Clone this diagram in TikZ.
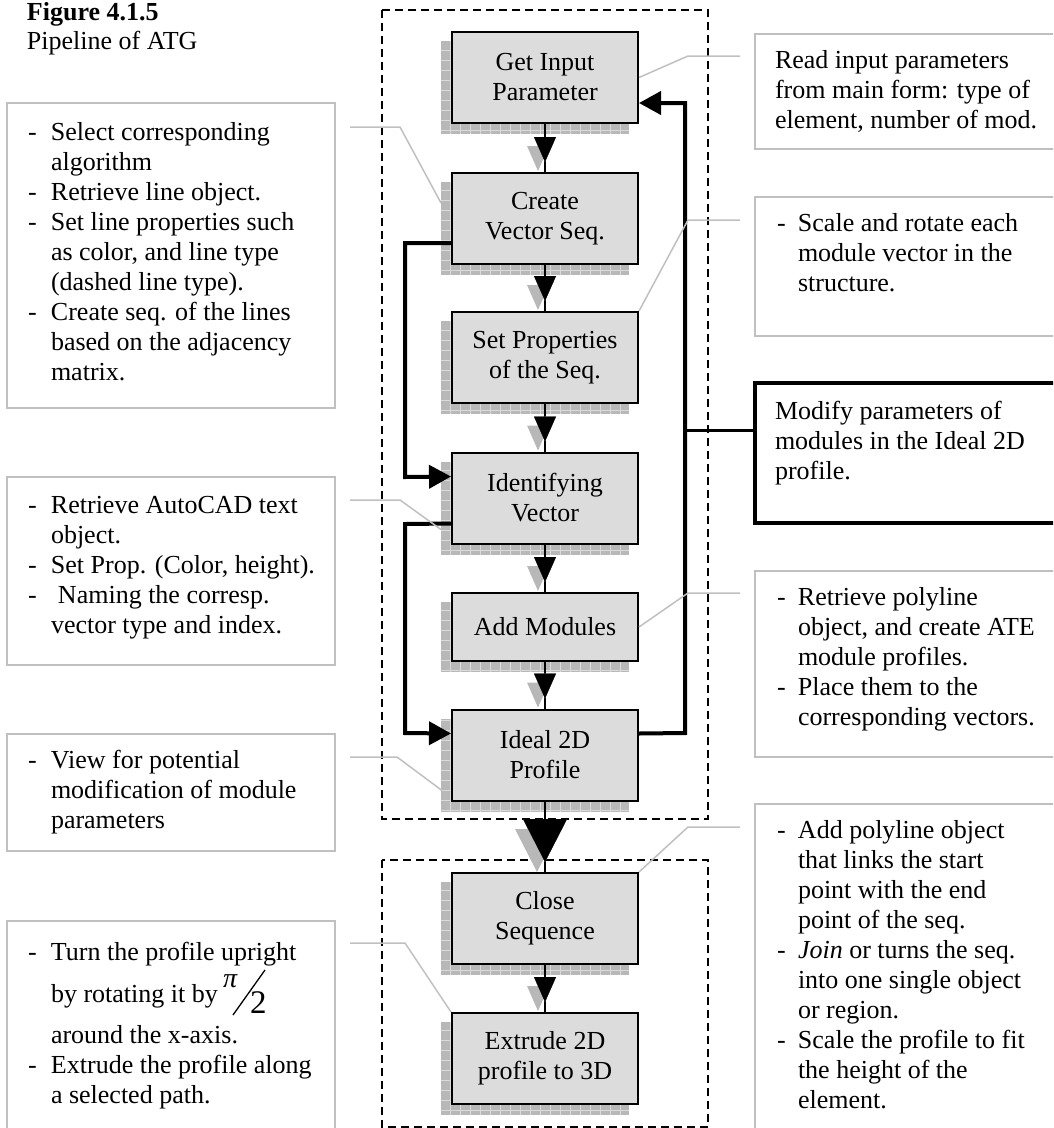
\documentclass[tikz,border=0pt]{standalone}
\usepackage{fontspec}
\setmainfont{Liberation Serif}
\usetikzlibrary{arrows.meta,calc,backgrounds}

\newcommand\bodyfont{\fontsize{26}{30}\selectfont}

\definecolor{boxfill}{HTML}{DCDCDC}
\definecolor{noteline}{HTML}{C0C0C0}
\definecolor{shadowfill}{HTML}{B8B8B8}
\definecolor{shadowgrid}{HTML}{DADADA}

\tikzset{
  proc/.style={draw=black, line width=2pt, fill=boxfill, minimum width=186pt,
    minimum height=91pt, align=center, inner sep=0pt, font=\bodyfont},
  notebox/.style={draw=noteline, line width=1.5pt, anchor=north west,
    inner sep=0pt, outer sep=0pt},
  modbox/.style={draw=black, line width=3.5pt, anchor=north west,
    inner sep=0pt, outer sep=0pt},
  flow/.style={line width=2pt},
  feedback/.style={line width=4pt, -{Triangle[length=22pt,width=23pt]}},
  callout/.style={draw=noteline, line width=1.5pt},
  groupframe/.style={draw=black, line width=1.8pt, dash pattern=on 8pt off 5pt},
  txt/.style={anchor=base west, inner sep=0pt, outer sep=0pt, font=\bodyfont},
}

% black flow tip pointing down, 10pt above the top of box #1, with its grey shadow
% #2 half width, #3 length, #4 shadow x shift, #5 shadow y shift
\newcommand\flowtip[5]{%
  \coordinate (ft) at ([shift={(0,-10)}]#1.north);
  \fill[shadowfill] ([shift={(-#2+#4,-#3+#5)}]ft) -- ([shift={(#2+#4,-#3+#5)}]ft)
     -- ([shift={(#4,#5)}]ft) -- cycle;
  \fill[black] ([shift={(-#2,-#3)}]ft) -- ([shift={(#2,-#3)}]ft) -- (ft) -- cycle;}

\begin{document}
\begin{tikzpicture}[x=1pt,y=-1pt]
\useasboundingbox (0,0) rectangle (1053,1128);
\clip (0,0) rectangle (1053,1128);

% caption
\node[txt] (figno) at (27,20) {\textbf{Figure 4.1.5}};
\node[txt] (figcap) at (27,49) {Pipeline of ATG};

% dashed group frames
\draw[groupframe] (382,10) rectangle (708,819);
\draw[groupframe] (382,860) rectangle (708,1127);

% process boxes
\node[proc] (gin) at (545,77.5) {Get Input\\Parameter};
\node[proc] (cvs) at (545,218.5) {Create\\Vector Seq.};
\node[proc] (spr) at (545,357.5) {Set Properties\\of the Seq.};
\node[proc] (idv) at (545,498) {Identifying\\Vector};
\node[proc, minimum height=68pt] (adm) at (545,627) {Add Modules};
\node[proc] (i2d) at (545,755) {Ideal 2D\\Profile};
\node[proc] (cls) at (545,918.5) {Close\\Sequence};
\node[proc] (ext) at (545,1058.5) {Extrude 2D\\profile to 3D};

% hatched drop shadows behind the boxes
\begin{pgfonlayer}{background}
\foreach \n in {gin,cvs,spr,idv,adm,i2d,cls,ext}{
  \begin{scope}
    \clip ([shift={(-10,10)}]\n.north west) rectangle ([shift={(-10,10)}]\n.south east);
    \fill[shadowfill] ([shift={(-10,10)}]\n.north west) rectangle ([shift={(-10,10)}]\n.south east);
    \draw[shadowgrid, line width=0.8pt, step=10pt]
      ([shift={(-10,10)}]\n.north west) grid ([shift={(-10,10)}]\n.south east);
  \end{scope}}
\end{pgfonlayer}

% main flow
\foreach \a/\b in {gin/cvs,spr/idv,cvs/spr,idv/adm,adm/i2d,cls/ext}{
  \flowtip{\b}{11}{25}{-7}{9}
  \draw[flow] (\a.south) -- (\b.north);
  \flowtip{\b}{11}{25}{0}{0}
}
\flowtip{cls}{22}{43}{-8}{10}
\draw[flow] (i2d.south) -- (cls.north);
\flowtip{cls}{22}{43}{0}{0}

% loops on the left
\draw[feedback] ($(cvs.north west)+(0,71)$) -- (405,243) -- (405,477)
  -- ($(idv.north west)+(0,25)$);
\draw[feedback] ($(idv.north west)+(0,72)$) -- (405,524) -- (405,733)
  -- ($(i2d.north west)+(0,25)$);

% note boxes on the left
\node[notebox, minimum width=328pt, minimum height=305pt] (nsel) at (7,103) {};
\node[notebox, minimum width=328pt, minimum height=188pt] (ntxt) at (7,477) {};
\node[notebox, minimum width=328pt, minimum height=117pt] (nview) at (7,734) {};
\node[notebox, minimum width=328pt, minimum height=230pt] (nturn) at (7,921) {};

% note boxes on the right
\node[notebox, minimum width=320pt, minimum height=115pt] (nread) at (755,34) {};
\node[notebox, minimum width=320pt, minimum height=139pt] (nscale) at (755,197) {};
\node[modbox, minimum width=320pt, minimum height=140pt] (nmod) at (755,383) {};
\node[notebox, minimum width=320pt, minimum height=186pt] (npoly) at (755,571) {};
\node[notebox, minimum width=320pt, minimum height=340pt] (nclose) at (755,804) {};

% loop on the right, with its branch to the note
\draw[feedback] ($(i2d.north east)+(0,25)$) -- (685,733) -- (685,103)
  -- ($(gin.north east)+(0,72)$);
\draw[line width=3pt] (685,430) -- ($(nmod.north west)+(0,47)$);

% callout leaders
\draw[callout] (gin.east) -- (688,56) -- (740,56);
\draw[callout] (spr.north east) -- (688,220) -- (740,220);
\draw[callout] (adm.east) -- (688,593) -- (740,593);
\draw[callout] (cls.north east) -- (688,827) -- (740,827);
\draw[callout] (350,127) -- (400,127) -- ($(cvs.north west)+(-10,31)$);
\draw[callout] (350,500) -- (400,500) -- ($(idv.north west)+(-10,78)$);
\draw[callout] (350,757) -- (397,757) -- ($(i2d.north west)+(-9,82)$);
\draw[callout] (350,943) -- (405,943) -- (ext.north west);

% note texts, left
\node[txt] (tsel) at (28,140) {\begin{tabular}[t]{@{}p{23pt}@{}l@{}}
-&Select corresponding\\ &algorithm\\ -&Retrieve line object.\\
-&Set line properties such\\ &as color, and line type\\ &(dashed line type).\\
-&Create seq. of the lines\\ &based on the adjacency\\ &matrix.\end{tabular}};
\node[txt] (ttxt) at (28,513) {\begin{tabular}[t]{@{}p{23pt}@{}l@{}}
-&Retrieve AutoCAD text\\ &object.\\ -&Set Prop. (Color, height).\\
-&\hspace{7pt}Naming the corresp.\\ &vector type and index.\end{tabular}};
\node[txt] (tview) at (28,768) {\begin{tabular}[t]{@{}p{23pt}@{}l@{}}
-&View for potential\\ &modification of module\\ &parameters\end{tabular}};
\node[txt] (tturn1) at (28,960) {\makebox[23pt][l]{-}Turn the profile upright};
\node[txt] (tturn2) at (51,1002) {by rotating it by};
\node[txt] (tpinum) at (223,987) {\fontsize{28}{28}\selectfont\itshape π};
\node[txt] (tpiden) at (250,1013) {\fontsize{33}{33}\selectfont 2};
\draw[line width=1.3pt] (233,1015) -- (265,970);
\node[txt] (tturn3) at (28,1043) {\begin{tabular}[t]{@{}p{23pt}@{}l@{}}
&around the x-axis.\\ -&Extrude the profile along\\ &a selected path.\end{tabular}};

% note texts, right
\node[txt] (tread) at (775,68) {\begin{tabular}[t]{@{}l@{}}
Read input parameters\\ from main form: type of\\ element, number of mod.\end{tabular}};
\node[txt] (tscale) at (777,231) {\begin{tabular}[t]{@{}p{21pt}@{}l@{}}
-&Scale and rotate each\\ &module vector in the\\ &structure.\end{tabular}};
\node[txt] (tmod) at (775,419) {\begin{tabular}[t]{@{}l@{}}
Modify parameters of\\ modules in the Ideal 2D\\ profile.\end{tabular}};
\node[txt] (tpoly) at (777,605) {\begin{tabular}[t]{@{}p{21pt}@{}l@{}}
-&Retrieve polyline\\ &object, and create ATE\\ &module profiles.\\
-&Place them to the\\ &corresponding vectors.\end{tabular}};
\node[txt] (tclose) at (777,838) {\begin{tabular}[t]{@{}p{21pt}@{}l@{}}
-&Add polyline object\\ &that links the start\\ &point with the end\\ &point of the seq.\\
-&\textit{Join} or turns the seq.\\ &into one single object\\ &or region.\\
-&Scale the profile to fit\\ &the height of the\\ &element.\end{tabular}};
\end{tikzpicture}
\end{document}
